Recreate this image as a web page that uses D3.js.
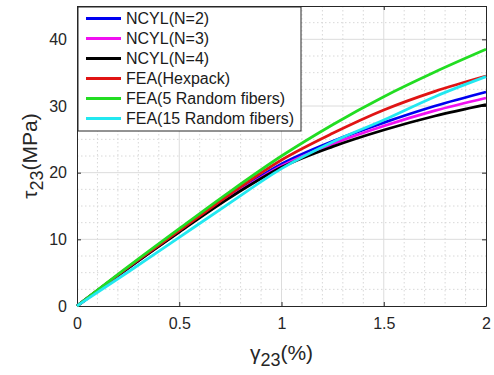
<!DOCTYPE html>
<html lang="en">
<head>
<meta charset="utf-8" />
<title>Shear stress-strain</title>
<script src="https://d3js.org/d3.v7.min.js"></script>
<style>
  body { margin: 0; padding: 0; background: #fff; }
  svg { display: block; font-family: "Liberation Sans", Arial, sans-serif; }
  .tick text { fill: #262626; font-size: 16px; }
  .grid-major line { stroke: #dcdcdc; stroke-width: 1; }
  .grid-minor line { stroke: #d8d8d8; stroke-width: 1; stroke-dasharray: 1.5 2.5; }
</style>
</head>
<body>
<div id="chart"></div>
<script>
// ---- data ----
const strain = [0, 0.25, 0.5, 0.75, 1, 1.25, 1.5, 1.75, 2];

const ncyl2   = [0, 5.7, 11.2, 16.5, 21.3, 24.7, 27.5, 30.0, 32.1];
const ncyl3   = [0, 5.7, 11.2, 16.4, 21.0, 24.3, 27.0, 29.3, 31.2];
const ncyl4   = [0, 5.7, 11.1, 16.3, 20.8, 23.9, 26.4, 28.5, 30.2];
const feaHex  = [0, 5.8, 11.3, 16.8, 21.9, 25.9, 29.4, 32.2, 34.5];
const fea5    = [0, 5.9, 11.6, 17.2, 22.5, 27.2, 31.4, 35.1, 38.5];
const fea15   = [0, 5.1, 10.3, 15.5, 20.6, 24.6, 27.9, 31.4, 34.4];

const seriesNames  = ["NCYL(N=2)", "NCYL(N=3)", "NCYL(N=4)", "FEA(Hexpack)", "FEA(5 Random fibers)", "FEA(15 Random fibers)"];
const seriesValues = [ncyl2, ncyl3, ncyl4, feaHex, fea5, fea15];
const seriesColors = ["#0000f0", "#f010f0", "#000000", "#e01414", "#22dd22", "#22e8f0"];

const xTicks = [0, 0.5, 1, 1.5, 2];
const yTicks = [0, 10, 20, 30, 40];

// ---- setup ----
const W = 494, H = 375;
const margin = { top: 6, right: 8, bottom: 69, left: 77 };
const width  = W - margin.left - margin.right,
      height = H - margin.top - margin.bottom;

const svg = d3.select("#chart").append("svg")
  .attr("width", W).attr("height", H);

const g = svg.append("g")
  .attr("transform", `translate(${margin.left},${margin.top})`);

const x = d3.scaleLinear().domain([0, 2]).range([0, width]);
const y = d3.scaleLinear().domain([0, 45]).range([height, 0]);

// minor grid (dotted)
g.append("g").attr("class", "grid-minor")
  .selectAll("line").data(d3.range(0.1, 2, 0.1).filter(v => Math.abs(v * 2 - Math.round(v * 2)) > 1e-6))
  .join("line")
    .attr("x1", d => x(d)).attr("x2", d => x(d))
    .attr("y1", 0).attr("y2", height);
g.append("g").attr("class", "grid-minor")
  .selectAll("line").data(d3.range(2.5, 45, 2.5).filter(v => v % 10 !== 0))
  .join("line")
    .attr("y1", d => y(d)).attr("y2", d => y(d))
    .attr("x1", 0).attr("x2", width);

// major grid
g.append("g").attr("class", "grid-major")
  .selectAll("line").data(xTicks.slice(1, -1))
  .join("line")
    .attr("x1", d => x(d)).attr("x2", d => x(d))
    .attr("y1", 0).attr("y2", height);
g.append("g").attr("class", "grid-major")
  .selectAll("line").data(yTicks.slice(1))
  .join("line")
    .attr("y1", d => y(d)).attr("y2", d => y(d))
    .attr("x1", 0).attr("x2", width);

// axes (MATLAB style: inward ticks, box)
g.append("g")
  .attr("transform", `translate(0,${height})`)
  .call(d3.axisBottom(x).tickValues(xTicks).tickFormat(d3.format("")).tickSizeInner(-4).tickSizeOuter(0).tickPadding(12));
g.append("g")
  .call(d3.axisLeft(y).tickValues(yTicks).tickSizeInner(-4).tickSizeOuter(0).tickPadding(10));
g.append("g")
  .attr("transform", `translate(${width},0)`)
  .call(d3.axisRight(y).tickValues(yTicks).tickSizeInner(-4).tickSizeOuter(0).tickFormat(""));
g.append("g")
  .call(d3.axisTop(x).tickValues(xTicks).tickSizeInner(-4).tickSizeOuter(0).tickFormat(""));

g.selectAll(".domain").attr("stroke", "#262626");
g.selectAll(".tick line").attr("stroke", "#262626");

// curves
const line = d3.line()
  .x((d, i) => x(strain[i]))
  .y(d => y(d))
  .curve(d3.curveMonotoneX);

g.append("g").selectAll("path")
  .data(seriesValues)
  .join("path")
    .attr("d", d => line(d))
    .attr("fill", "none")
    .attr("stroke", (d, i) => seriesColors[i])
    .attr("stroke-width", 2.8);

// legend
const legend = g.append("g").attr("transform", "translate(1,1)");
legend.append("rect")
  .attr("width", 223).attr("height", 124)
  .attr("fill", "#fff").attr("stroke", "#262626").attr("stroke-width", 1);
seriesNames.forEach((name, i) => {
  const yy = 11.5 + i * 20;
  legend.append("line")
    .attr("x1", 8).attr("x2", 43).attr("y1", yy).attr("y2", yy)
    .attr("stroke", seriesColors[i]).attr("stroke-width", 3);
  legend.append("text")
    .attr("x", 48).attr("y", yy).attr("dy", "0.35em")
    .attr("font-size", 16).attr("fill", "#1a1a1a")
    .text(name);
});

// axis labels
const xl = svg.append("text")
  .attr("x", margin.left + x(1)).attr("y", 360)
  .attr("text-anchor", "middle").attr("fill", "#262626").attr("font-size", 21);
xl.append("tspan").text("\u03b3");
xl.append("tspan").attr("font-size", 18).attr("dy", 6).text("23");
xl.append("tspan").attr("dy", -6).text("(%)");

const yl = svg.append("text")
  .attr("transform", `translate(37,${margin.top + y(22.5)}) rotate(-90)`)
  .attr("text-anchor", "middle").attr("fill", "#262626").attr("font-size", 21);
yl.append("tspan").text("\u03c4");
yl.append("tspan").attr("font-size", 18).attr("dy", 6).text("23");
yl.append("tspan").attr("dy", -6).text("(MPa)");
</script>
</body>
</html>
